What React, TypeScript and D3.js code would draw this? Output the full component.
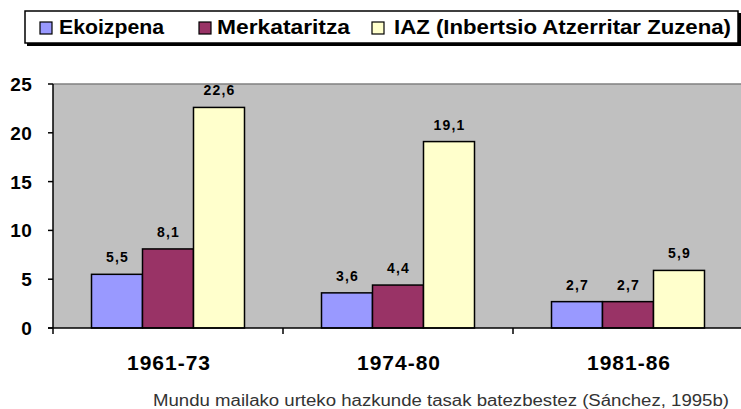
import * as d3 from "d3";
import React from "react";

const categories = ["1961-73", "1974-80", "1981-86"];
const seriesNames = ["Ekoizpena", "Merkataritza", "IAZ (Inbertsio Atzerritar Zuzena)"];
const ekoizpena = [5.5, 3.6, 2.7];
const merkataritza = [8.1, 4.4, 2.7];
const iaz = [22.6, 19.1, 5.9];
const yTicks = [0, 5, 10, 15, 20, 25];
const caption = "Mundu mailako urteko hazkunde tasak batezbestez (Sánchez, 1995b)";

const colors = ["#9999FF", "#993366", "#FFFFCC"];
const seriesValues = [ekoizpena, merkataritza, iaz];

const width = 741;
const height = 409;
const margin = { left: 53, top: 84, bottom: 328, right: 743 };

// legend layout: swatch x, text x, text width
const legendLayout = [
  { sx: 40, tx: 59, tw: 105 },
  { sx: 199, tx: 217, tw: 133 },
  { sx: 372, tx: 394, tw: 337 },
];

const fmt = (v: number) => String(v).replace(".", ",");
const font = "'Liberation Sans', Arial, sans-serif";

export default function App() {
  const x0 = d3.scaleBand<string>().domain(categories).range([margin.left, margin.right]);
  const x1 = d3
    .scaleBand<string>()
    .domain(seriesNames)
    .range([0, x0.bandwidth()])
    .paddingInner(0)
    .paddingOuter(0.755);
  const y = d3.scaleLinear().domain([0, 25]).range([margin.bottom, margin.top]);

  const bars = categories.flatMap((cat, ci) =>
    seriesNames.map((s, si) => ({
      key: `${cat}-${s}`,
      x: (x0(cat) as number) + (x1(s) as number),
      w: x1.bandwidth(),
      v: seriesValues[si][ci],
      fill: colors[si],
    }))
  );

  return (
    <svg
      width={width}
      height={height}
      style={{ position: "absolute", left: 0, top: 0, display: "block" }}
      fontFamily={font}
    >
      <rect width={width} height={height} fill="#ffffff" />

      {/* legend */}
      <rect x={27} y={13} width={714} height={33} fill="#000000" />
      <rect x={25} y={11} width={713} height={32} fill="#ffffff" stroke="#000000" strokeWidth={1.5} />
      {seriesNames.map((s, i) => (
        <g key={s}>
          <rect
            x={legendLayout[i].sx}
            y={22}
            width={12}
            height={12}
            fill={colors[i]}
            stroke="#000000"
            strokeWidth={1.2}
          />
          <text
            x={legendLayout[i].tx}
            y={34}
            fontSize={20}
            fontWeight="bold"
            textLength={legendLayout[i].tw}
            lengthAdjust="spacingAndGlyphs"
          >
            {s}
          </text>
        </g>
      ))}

      {/* plot area */}
      <rect
        x={margin.left}
        y={margin.top}
        width={margin.right - margin.left}
        height={margin.bottom - margin.top}
        fill="#C0C0C0"
      />
      <line x1={margin.left} x2={width} y1={margin.top} y2={margin.top} stroke="#808080" strokeWidth={1.5} />

      {bars.map((b) => (
        <rect
          key={b.key}
          x={b.x}
          y={y(b.v)}
          width={b.w}
          height={y(0) - y(b.v)}
          fill={b.fill}
          stroke="#000000"
          strokeWidth={1.5}
        />
      ))}

      {bars.map((b) => (
        <text
          key={b.key + "-l"}
          x={b.x + b.w / 2 + 0.5}
          y={y(b.v) - 12}
          textAnchor="middle"
          fontSize={14}
          fontWeight="bold"
          letterSpacing={1.2}
        >
          {fmt(b.v)}
        </text>
      ))}

      {/* axes */}
      <line x1={margin.left} x2={margin.left} y1={margin.top} y2={margin.bottom} stroke="#000000" strokeWidth={1.5} />
      <line x1={margin.left - 5} x2={width} y1={margin.bottom} y2={margin.bottom} stroke="#000000" strokeWidth={1.5} />
      {yTicks.map((t) => (
        <g key={t}>
          <line x1={margin.left - 5} x2={margin.left} y1={y(t)} y2={y(t)} stroke="#000000" strokeWidth={1.5} />
          <text
            x={32}
            y={y(t) + 7}
            textAnchor="end"
            fontSize={19}
            fontWeight="bold"
            letterSpacing={0.3}
          >
            {t}
          </text>
        </g>
      ))}
      {categories.map((c) => (
        <g key={c}>
          <line
            x1={x0(c) as number}
            x2={x0(c) as number}
            y1={margin.bottom}
            y2={margin.bottom + 6}
            stroke="#000000"
            strokeWidth={1.5}
          />
          <text
            x={(x0(c) as number) + x0.bandwidth() / 2 + 1}
            y={370}
            textAnchor="middle"
            fontSize={21}
            fontWeight="bold"
            letterSpacing={1}
          >
            {c}
          </text>
        </g>
      ))}

      <text
        x={153}
        y={406}
        fontSize={16}
        fill="#333333"
        textLength={576}
        lengthAdjust="spacingAndGlyphs"
      >
        {caption}
      </text>
    </svg>
  );
}
